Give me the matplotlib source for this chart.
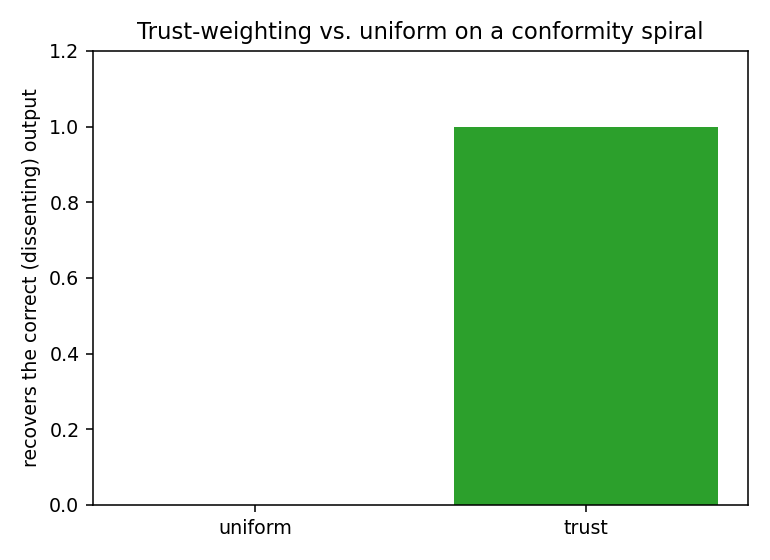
import matplotlib
matplotlib.use("Agg")
import matplotlib.pyplot as plt

# data
methods = ["uniform", "trust"]
recovered = [0.0, 1.0]
bar_colors = ["#d62728", "#2ca02c"]

plt.rcParams["font.size"] = 9.75

fig, ax = plt.subplots(figsize=(5.5, 4), dpi=140)
ax.bar(methods, recovered, color=bar_colors)
ax.set_ylim(0, 1.2)
ax.set_ylabel("recovers the correct (dissenting) output")
ax.set_title("Trust-weighting vs. uniform on a conformity spiral", fontsize=11.7)
fig.subplots_adjust(left=93 / 770, right=748 / 770, top=1 - 51 / 560, bottom=1 - 505 / 560)
fig.savefig("out.png")
